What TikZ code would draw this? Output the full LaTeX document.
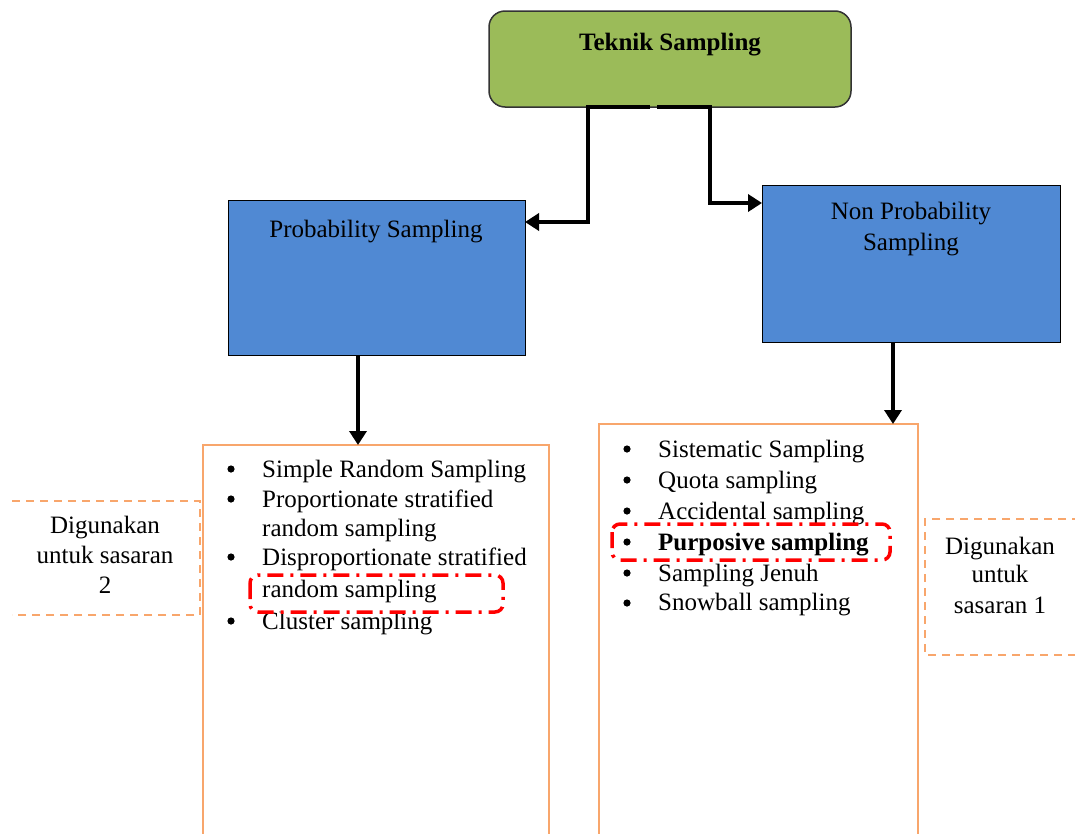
\documentclass[tikz,border=0pt]{standalone}
\usepackage{fontspec}
\setmainfont{Liberation Serif}
\usetikzlibrary{arrows.meta,calc}
\definecolor{greenfill}{HTML}{9BBB59}
\definecolor{bluefill}{HTML}{5089D3}
\definecolor{orangeline}{HTML}{F8A66C}
\tikzset{
  base/.style={inner sep=0pt, outer sep=0pt, anchor=north west},
  headbox/.style={base, draw=black!80, line width=1.5pt, fill=greenfill, rounded corners=16pt},
  catbox/.style={base, draw=black, line width=1pt, fill=bluefill},
  listbox/.style={base, draw=orangeline, line width=2pt},
  noteline/.style={draw=orangeline, line width=2pt, dash pattern=on 8pt off 6pt},
  hilite/.style={draw=red, line width=3.5pt, rounded corners=8pt, dash pattern=on 16pt off 7pt on 3pt off 7pt},
  arr/.style={draw=black, line width=4pt, -{Triangle[length=14pt,width=17pt]}},
  txt/.style={inner sep=0pt, anchor=mid},
  litem/.style={inner sep=0pt, anchor=mid west},
  bdot/.style={fill=black, draw=none}
}
\begin{document}
\begin{tikzpicture}[x=1pt, y=-1pt, font=\fontsize{25}{30}\selectfont]
\useasboundingbox (0,0) rectangle (1075,833);
\clip (0,0) rectangle (1075,833);
\fill[white] (0,0) rectangle (1075,833);

% main boxes
\node[headbox, minimum width=362pt, minimum height=96pt] (teknik) at (489,11) {};
\node[txt, font=\fontsize{25}{30}\selectfont\bfseries] (teknikT) at (670,48) {Teknik Sampling};

\node[catbox, minimum width=297pt, minimum height=155pt] (prob) at (228,200) {};
\node[txt] (probT) at (376,235) {Probability Sampling};

\node[catbox, minimum width=298pt, minimum height=157pt] (nonprob) at (762,185) {};
\node[txt] (nonprobT1) at (911,217) {Non Probability};
\node[txt] (nonprobT2) at (911,248) {Sampling};

% list boxes
\node[listbox, minimum width=346pt, minimum height=420pt] (plist) at (203,445) {};
\node[listbox, minimum width=319pt, minimum height=440pt] (nlist) at (599,424) {};

% connectors
\coordinate (lbend) at (588,222);
\coordinate (rbend) at (710,203);
\draw[arr] ([xshift=-20pt]teknik.south) -| (lbend) -- (lbend -| prob.east);
\draw[arr] ([xshift=-13pt]teknik.south) -| (rbend) -- (rbend -| nonprob.west);
\coordinate (pdown) at (358,0);
\coordinate (ndown) at (893,0);
\draw[arr] (prob.south -| pdown) -- (plist.north -| pdown);
\draw[arr] (nonprob.south -| ndown) -- (nlist.north -| ndown);

% probability sampling techniques
\foreach \y in {469,499,557,621} \fill[bdot] (231,\y) circle (3.6pt);
\node[litem] (p1) at (262,475) {Simple Random Sampling};
\node[litem] (p2) at (262,505) {Proportionate stratified};
\node[litem] (p3) at (262,534) {random sampling};
\node[litem] (p4) at (262,563) {Disproportionate stratified};
\node[litem] (p5) at (262,595) {random sampling};
\node[litem] (p6) at (262,627) {Cluster sampling};

% non probability sampling techniques
\foreach \y in {449,480,511,542,573,603} \fill[bdot] (627,\y) circle (3.6pt);
\node[litem] (n1) at (658,455) {Sistematic Sampling};
\node[litem] (n2) at (658,486) {Quota sampling};
\node[litem] (n3) at (658,517) {Accidental sampling};
\node[litem, font=\fontsize{25}{30}\selectfont\bfseries] (n4) at (658,548) {Purposive sampling};
\node[litem] (n5) at (658,579) {Sampling Jenuh};
\node[litem] (n6) at (658,608) {Snowball sampling};

% highlighted techniques
\draw[hilite] (250,575) rectangle (503,612);
\draw[hilite] (612,524) rectangle (890,560);

% notes
\draw[noteline] (12,501) -- (200,501) -- (200,615) -- (12,615);
\node[txt] (s2a) at (105,531) {Digunakan};
\node[txt] (s2b) at (105,561) {untuk sasaran};
\node[txt] (s2c) at (105,591) {2};

\draw[noteline] (1080,519) -- (925,519) -- (925,655) -- (1080,655);
\node[txt] (s1a) at (1000,552) {Digunakan};
\node[txt] (s1b) at (1000,580) {untuk};
\node[txt] (s1c) at (1000,611) {sasaran 1};
\end{tikzpicture}
\end{document}
